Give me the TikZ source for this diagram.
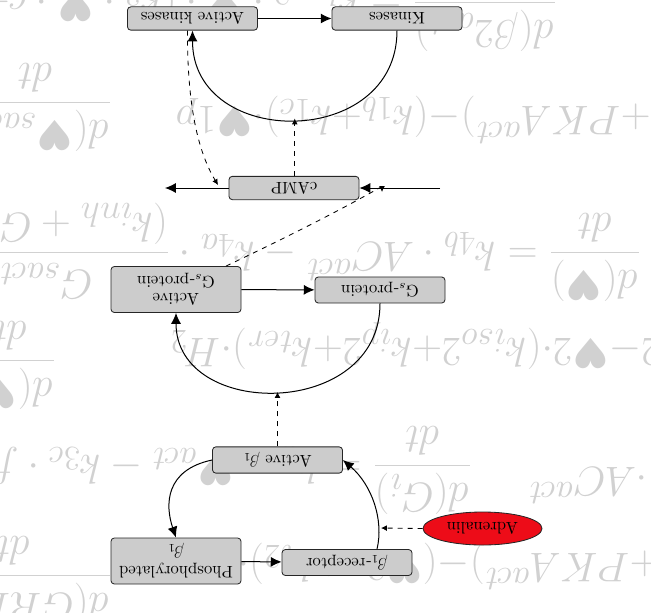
\documentclass[tikz,border=0pt]{standalone}
\usepackage{fontspec}
\newfontfamily\heartfont{DejaVu Sans}
\usetikzlibrary{arrows.meta,shapes.geometric}
\newcommand\hrt{\mbox{\heartfont ♥}}
\newcommand\ud[1]{\rotatebox[origin=c]{180}{#1}}
\definecolor{adr}{RGB}{237,12,24}
\begin{document}
\begin{tikzpicture}[x=0.6pt,y=0.6pt,
  box/.style={draw=black!85, fill=black!20, rounded corners=2pt, minimum width=78pt, minimum height=14pt, inner sep=3.33pt, line width=0.5pt},
  arr/.style={line width=0.6pt, -{Latex[length=6.5pt,width=6pt]}},
  darr/.style={line width=0.5pt, dashed, -{Latex[length=3.5pt,width=3.5pt]}},
  wm/.style={text=black!18, font=\Huge, inner sep=0pt, rotate=180}]
\useasboundingbox (0,0) rectangle (651,-612);
\begin{scope}
\clip (0,0) rectangle (651,-612);
\node[wm, anchor=base west] (w1) at (557,8) {$\displaystyle\frac{d(\beta 2_{act})}{dt}=k_{bas2}\cdot\hrt\cdot(k_3\cdot\hrt\cdot c+$};
\node[wm, anchor=base west] (w2) at (112,-92) {$\displaystyle\frac{d(\hrt_{sact})}{dt}$};
\node[wm, anchor=base west] (w3) at (651,-107) {$\medmuskip=0mu +PKA^{act})-(k_{1b}+k_{1c})\cdot\hrt 1p$};
\node[wm, anchor=base west] (w4) at (641,-242) {$\displaystyle\frac{d(\hrt)}{dt}=k_{4b}\cdot AC^{act}-k_{4a}\cdot\frac{G_{sact}}{(k_{inh}+G_{sact})}$};
\node[wm, anchor=base west] (w5) at (56,-350) {$\displaystyle\frac{d(\hrt)}{dt}$};
\node[wm, anchor=base east] (w6) at (170,-338) {$\medmuskip=0mu \beta2-\hrt2\cdot(k_{iso}2+k_{ip}2+k_{ter})\cdot H_2$};
\node[wm, anchor=base west] (w7) at (648,-467) {$\cdot AC^{act}$};
\node[wm, anchor=base west] (w8) at (472,-455) {$\displaystyle\frac{d(G_i)}{dt}=k_{a1}\cdot\hrt_{act}-k_{3c}\cdot f$};
\node[wm, anchor=base west] (w9) at (112,-565) {$\displaystyle\frac{d(GRK_{act})}{dt}$};
\node[wm, anchor=base west] (w10) at (660,-553) {$\medmuskip=0mu +PKA^{act})-(\hrt2u+k_{t2})\cdot\beta2l$};
\end{scope}
% nodes
\node[box] (AK) at (192.5,-18.5) {\ud{Active kinases}};
\node[box] (K) at (397,-18.5) {\ud{Kinases}};
\node[box] (cAMP) at (294,-188) {\ud{cAMP}};
\node[box, minimum height=27.6pt] (AGs) at (176,-289.5) {\ud{\shortstack{Active\\G$_s$-protein}}};
\node[box] (Gs) at (380,-290) {\ud{G$_s$-protein}};
\node[box] (Ab1) at (277.5,-460) {\ud{Active $\beta_1$}};
\node[box, minimum height=27.6pt] (Pb1) at (176,-561) {\ud{\shortstack{Phosphorylated\\$\beta_1$}}};
\node[box] (b1r) at (347,-562.5) {\ud{$\beta_1$-receptor}};
\node[ellipse, draw=black!85, fill=adr, minimum width=71.4pt, minimum height=19.8pt, inner sep=0pt, line width=0.5pt] (Adr) at (482.5,-528.5) {\ud{Adrenalin}};
% coordinates
\coordinate (arcA) at (294.75,-118.5);
\coordinate (arcB) at (278,-392);
\coordinate (cl) at (165,-188);
\coordinate (cr) at (440,-188);
\coordinate (tl) at (218,-185);
\coordinate (tr) at (382,-192);
\coordinate (adrT) at (381,-528);
% connectors
\draw[arr] (AK) -- (K);
\draw[arr] (K.south) .. controls +(0,-119) and +(0,-119) .. (AK.south);
\draw[darr] (cAMP.north -| arcA) -- (arcA);
\draw[arr] (cAMP.west) -- (cl);
\draw[arr] (cr) -- (cAMP.east);
\draw[darr] ([xshift=-3pt]AK.south) .. controls (187,-120) and (203,-160) .. (tl);
\draw[darr] ([xshift=30pt]AGs.north) .. controls (340,-212) and (382,-186) .. (tr);
\draw[arr] (AGs) -- (Gs);
\draw[arr] (Gs.south) .. controls +(0,-116) and +(0,-107) .. (AGs.south);
\draw[darr] (Ab1.north) -- (Ab1.north |- arcB);
\draw[arr] (Ab1.west) .. controls (165,-470) and (165,-505) .. (Pb1.north);
\draw[arr] (Pb1) -- (b1r);
\draw[arr] ([xshift=18pt]b1r.north) .. controls (384,-520) and (372,-485) .. (Ab1.east);
\draw[darr] (Adr.west) -- (adrT);
\end{tikzpicture}
\end{document}
